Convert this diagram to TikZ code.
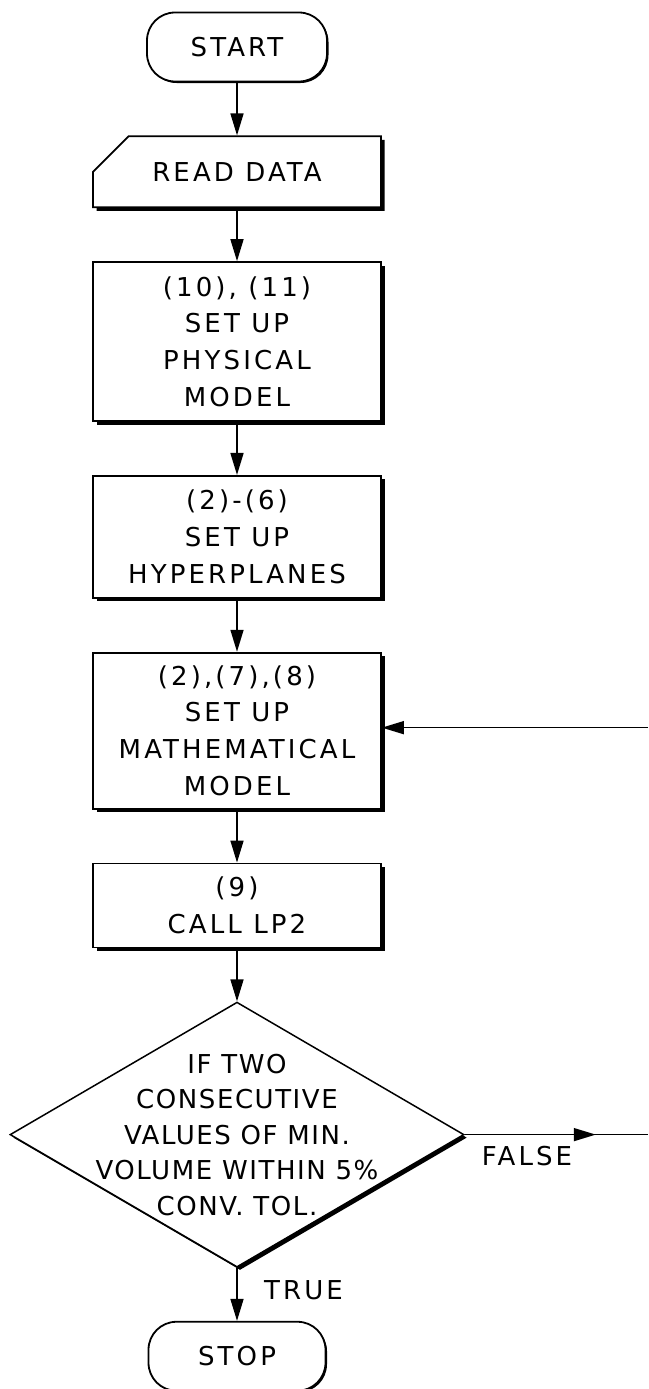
\documentclass[tikz,border=0pt]{standalone}
\usepackage{fontspec}
\newfontfamily\letterfont[LetterSpace=12]{DejaVu Sans}
\newfontfamily\tightfont[LetterSpace=6]{DejaVu Sans}
\usetikzlibrary{arrows.meta, positioning, shapes.geometric, shapes.misc, shadows}

\begin{document}
\begin{tikzpicture}[
    x=1pt, y=-1pt,
    font=\letterfont\fontsize{26}{36.7}\selectfont,
    heavy/.style={drop shadow={shadow xshift=#1, shadow yshift=-#1,
                  fill=black, opacity=1}},
    box/.style={rectangle, draw, line width=1.8pt, fill=white,
                minimum width=288pt, minimum height=#1, align=center,
                inner sep=4pt, heavy=3.5pt},
    term/.style={rectangle, rounded corners=28pt, draw, line width=1.8pt,
                 fill=white, minimum width=180pt, minimum height=69pt,
                 heavy=1.5pt},
    card/.style={chamfered rectangle, chamfered rectangle corners=north west,
                 chamfered rectangle xsep=20pt, chamfered rectangle ysep=22pt,
                 draw, line width=1.8pt, fill=white, minimum width=288pt,
                 minimum height=67pt, inner sep=4pt, heavy=3.5pt},
    decision/.style={diamond, draw, line width=1.5pt, fill=white,
                     minimum width=454pt, minimum height=265pt, inner sep=0pt,
                     heavy=3pt},
    arr/.style={-{Triangle[length=22pt, width=13pt]}, line width=1.6pt},
    line/.style={line width=1.6pt},
    node distance=53pt
  ]
  \useasboundingbox (0,0) rectangle (648,1389);

  \node[term] (start) at (237,47) {START};
  \node[card, below=of start]     (read)  {READ DATA};
  \node[box=159pt, below=of read] (phys)  {(10), (11)\\SET UP\\PHYSICAL\\MODEL};
  \node[box=122pt, below=of phys] (hyper) {(2)-(6)\\SET UP\\HYPERPLANES};
  \node[box=156pt, below=of hyper](math)  {(2),(7),(8)\\SET UP\\MATHEMATICAL\\MODEL};
  \node[box=84pt,  below=of math] (lp)    {(9)\\CALL LP2};
  \node[decision,  below=of lp]   (test)  {};
  \node[align=center, font=\tightfont\fontsize{26}{35.5}\selectfont]
       (testtxt) at (test) {IF TWO\\CONSECUTIVE\\VALUES OF MIN.\\VOLUME WITHIN 5\%\\CONV. TOL.};
  \node[term, minimum width=177pt, below=of test] (stop) {STOP};

  \foreach \a/\b in {start/read, read/phys, phys/hyper, hyper/math,
                     math/lp, lp/test}
    \draw[arr] (\a) -- (\b);

  \draw[arr] (test) -- (stop)
    node[pos=0.43, right=23pt] (true) {TRUE};

  % loop back, runs on beyond the right edge
  \coordinate (rim) at (648,0);
  \draw[line] (test.east) -- (test.east -| rim)
    node[pos=0.34, below=7pt] (false) {FALSE};
  \draw[arr] (test.east) -- ([xshift=131pt]test.east);
  \draw[arr] ([yshift=3pt]math.east -| rim) -- ([yshift=3pt]math.east);

\end{tikzpicture}
\end{document}
